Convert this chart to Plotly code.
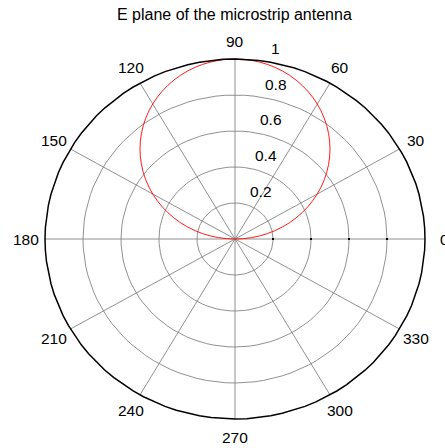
import numpy as np
import plotly.graph_objects as go

# E-plane radiation pattern (normalised field) vs. angle in degrees
theta_deg = [0, 5, 10, 15, 20, 25, 30, 35, 40, 45, 50, 55, 60, 65, 70, 75, 80, 85, 90,
             95, 100, 105, 110, 115, 120, 125, 130, 135, 140, 145, 150, 155, 160, 165, 170, 175, 180]
e_field = [0.0, 0.0872, 0.1736, 0.2588, 0.3420, 0.4226, 0.5000, 0.5736, 0.6428, 0.7071,
           0.7660, 0.8192, 0.8660, 0.9063, 0.9397, 0.9659, 0.9848, 0.9962, 1.0,
           0.9962, 0.9848, 0.9659, 0.9397, 0.9063, 0.8660, 0.8192, 0.7660, 0.7071, 0.6428,
           0.5736, 0.5000, 0.4226, 0.3420, 0.2588, 0.1736, 0.0872, 0.0]

# Polar grid description
ring_radii = [0.2, 0.4, 0.6, 0.8]
ring_labels = ["0.2", "0.4", "0.6", "0.8", "1"]
spoke_angles = [0, 30, 60, 90, 120, 150]
angle_labels = ["0", "30", "60", "90", "120", "150", "180", "210", "240", "270", "300", "330"]
r_max = 1.0

FONT = "Liberation Sans, Arial, sans-serif"
GRID = "#858585"

fig = go.Figure()

# concentric grid rings (drawn as 100-segment polygons)
ring_t = np.linspace(0, 2 * np.pi, 101)
for r in ring_radii:
    fig.add_trace(go.Scatter(x=r * np.cos(ring_t), y=r * np.sin(ring_t), mode="lines",
                             line=dict(color=GRID, width=0.9), hoverinfo="skip", showlegend=False))

# radial spokes through the centre
for a in spoke_angles:
    ar = np.deg2rad(a)
    fig.add_trace(go.Scatter(x=[-r_max * np.cos(ar), r_max * np.cos(ar)],
                             y=[-r_max * np.sin(ar), r_max * np.sin(ar)], mode="lines",
                             line=dict(color=GRID, width=0.9), hoverinfo="skip", showlegend=False))

# small ticks on the 0-degree axis
fig.add_trace(go.Scatter(x=ring_radii, y=[0] * len(ring_radii), mode="markers",
                         marker=dict(symbol="square", size=2, color="black"),
                         hoverinfo="skip", showlegend=False))

# pattern curve
t = np.deg2rad(theta_deg)
e = np.array(e_field)
fig.add_trace(go.Scatter(x=e * np.cos(t), y=e * np.sin(t), mode="lines",
                         line=dict(color="#ff0000", width=0.9, shape="spline"),
                         name="E plane", showlegend=False))

# outer boundary
fig.add_trace(go.Scatter(x=r_max * np.cos(ring_t), y=r_max * np.sin(ring_t), mode="lines",
                         line=dict(color="black", width=1.5), hoverinfo="skip", showlegend=False))

annotations = []
# angle labels around the boundary
for lbl in angle_labels:
    ar = np.deg2rad(float(lbl))
    annotations.append(dict(x=1.1 * r_max * np.cos(ar), y=1.1 * r_max * np.sin(ar),
                            xref="x", yref="y", text=lbl, showarrow=False,
                            xanchor="center", yanchor="middle",
                            font=dict(family=FONT, size=15.5, color="black")))

# ring value labels along the 82-degree line
c82, s82 = np.cos(np.deg2rad(82)), np.sin(np.deg2rad(82))
for r, lbl in zip(ring_radii + [r_max], ring_labels):
    rr = r + 0.01
    annotations.append(dict(x=rr * c82, y=rr * s82, xref="x", yref="y", text=lbl,
                            showarrow=False, xanchor="left", yanchor="bottom", xshift=7,
                            font=dict(family=FONT, size=15.5, color="black")))

annotations.append(dict(x=235 / 445, y=1 - 14 / 448, xref="paper", yref="paper",
                        text="E plane of the microstrip antenna", showarrow=False,
                        xanchor="center", yanchor="middle",
                        font=dict(family=FONT, size=16, color="black")))

fig.update_layout(
    width=445, height=448,
    margin=dict(l=0, r=0, t=0, b=0),
    paper_bgcolor="white", plot_bgcolor="white",
    xaxis=dict(range=[-235 / 190, 210 / 190], visible=False, fixedrange=True),
    yaxis=dict(range=[-209 / 180, 239 / 180], visible=False, fixedrange=True),
    annotations=annotations,
    showlegend=False,
)

fig.write_html("out.html")
